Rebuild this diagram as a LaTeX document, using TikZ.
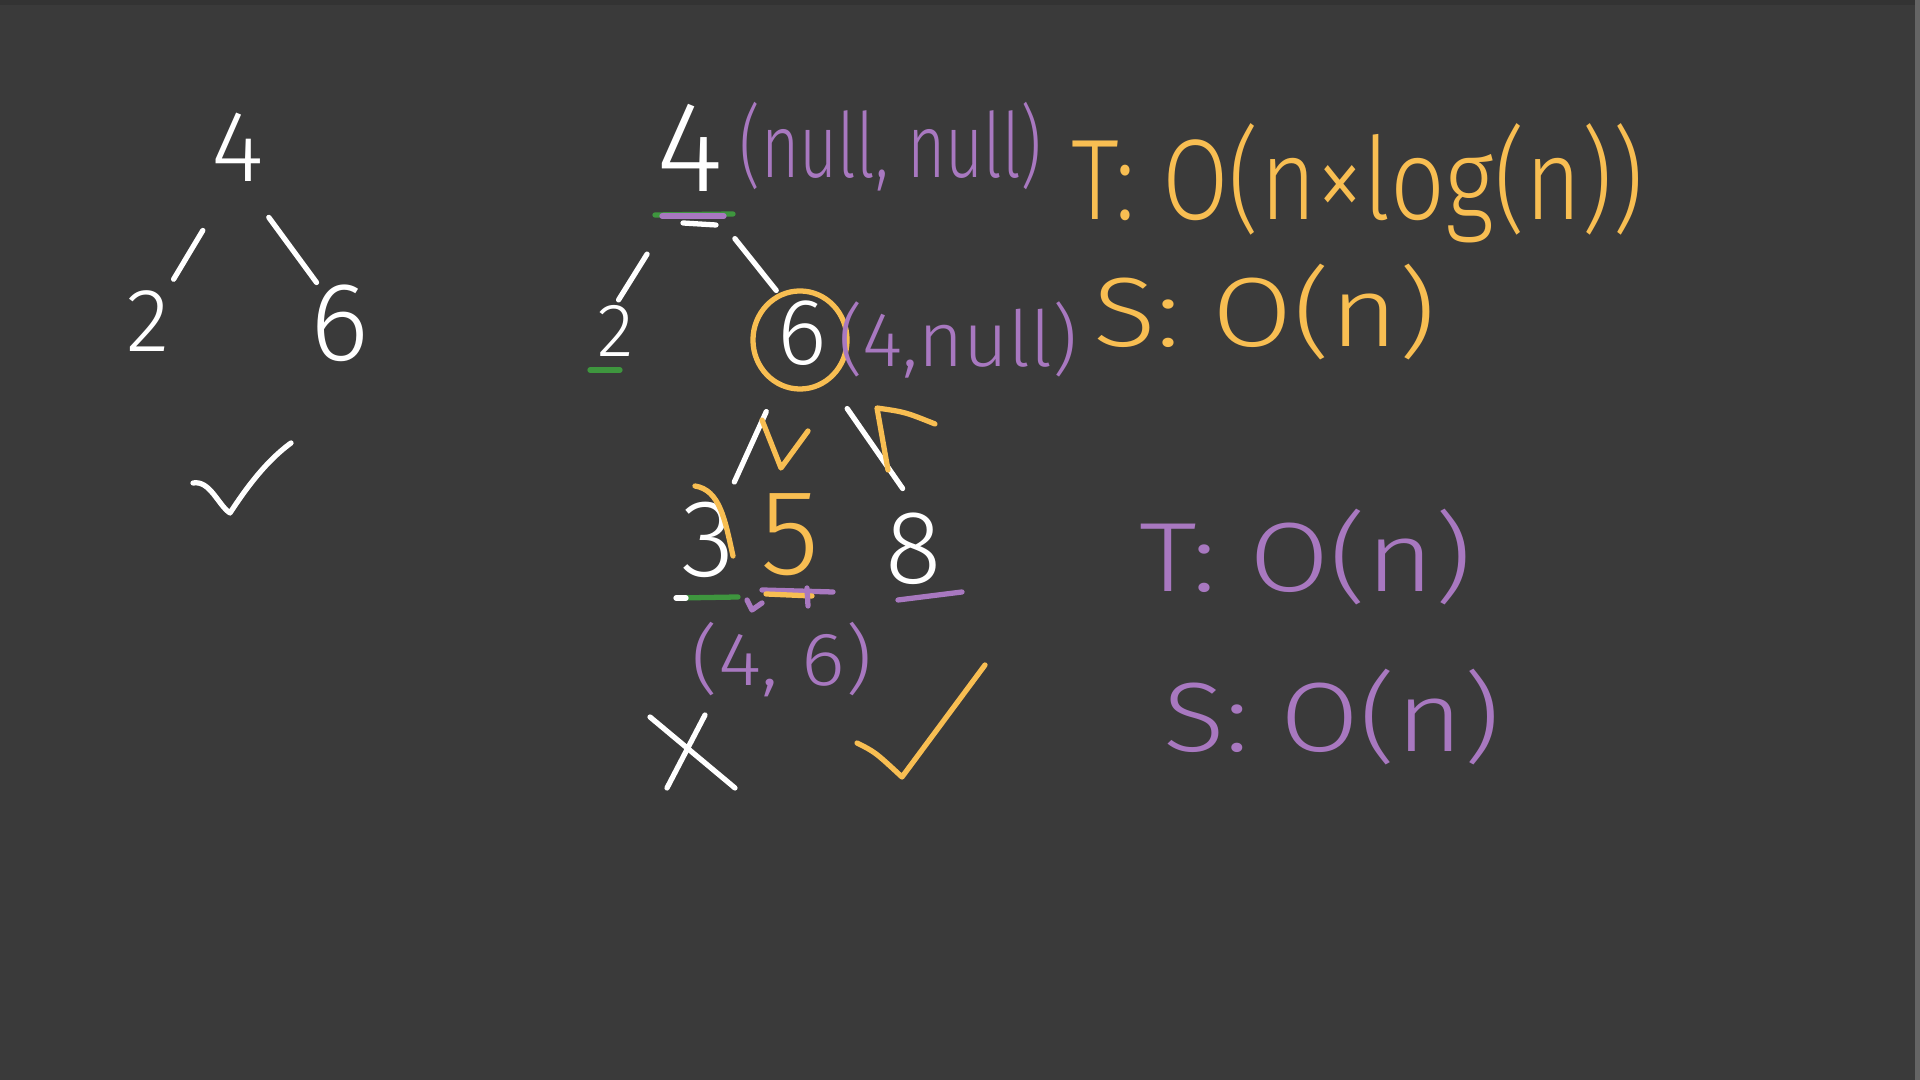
\documentclass[tikz,border=0pt]{standalone}
\usepackage{fontspec}
\setmainfont{Fira Sans Light}
\usetikzlibrary{calc}

\definecolor{board}{RGB}{58,58,58}
\definecolor{penpurple}{RGB}{168,120,192}
\definecolor{penorange}{RGB}{248,190,82}
\definecolor{pengreen}{RGB}{62,150,62}

\begin{document}
\begin{tikzpicture}[
    x=0.01cm, y=-0.01cm,
    digit/.style={text=white, inner sep=0pt, font=\fontsize{#1}{#1}\selectfont},
    note/.style={inner sep=0pt, font=\fontsize{#1}{#1}\selectfont},
    pen/.style={line width=1.5pt, line cap=round, line join=round},
    ]

    % Board
    \fill[board] (0,0) rectangle (1920,1080);
    \useasboundingbox (0,0) rectangle (1920,1080);
    \draw[black!80, line width=1.5pt] (0,2) -- (1920,2);
    \fill[gray!60!board] (1915,0) rectangle (1920,1080);

    % Left tree
    \node[digit=28.8] (l4) at (238,147) {4};
    \node[digit=25.6] (l2) at (148,321) {2};
    \node[digit=31.8] (l6) at (340,323) {6};
    \draw[pen, white] ($(l4)!0.48!(l2)+(8,0)$) -- ($(l4)!0.76!(l2)+(4,0)$);
    \draw[pen, white] ($(l4)!0.40!(l6)+(-10,0)$) -- ($(l4)!0.77!(l6)$);
    \draw[pen, white] (193,483) .. controls (210,480) and (218,505) .. (230,513)
        .. controls (245,490) and (265,462) .. (291,443);

    % Right tree
    \node[digit=36.7] (r4) at (690,148) {4};
    \node[digit=21.5] (r2) at (616,331) {2};
    \node[digit=26.8] (r6) at (802,333) {6};
    \node[digit=31.3] (r3) at (708,540) {3};
    \node[digit=34.6, text=penorange] (r5) at (790,535) {5};
    \node[digit=29.7] (r8) at (914,549) {8};
    \draw[pen, white] ($(r4)!0.58!(r2)$) -- ($(r4)!0.83!(r2)+(-10,0)$);
    \draw[pen, white] ($(r4)!0.49!(r6)+(-10,0)$) -- ($(r4)!0.77!(r6)$);
    \draw[pen, white] ($(r6)!0.38!(r3)$) -- ($(r6)!0.72!(r3)$);
    \draw[pen, white] ($(r6)!0.35!(r8)+(6,0)$) -- ($(r6)!0.72!(r8)+(20,0)$);
    \draw[pen, penorange] ($(r6)+(-2,7)$) ellipse [x radius=0.47cm, y radius=0.49cm];

    % Orange marks
    \draw[pen, penorange] (762,420) -- (781,468) -- (808,431);
    \draw[pen, penorange] (935,424) .. controls (905,412) .. (877,408) -- (888,470);
    \draw[pen, penorange] (695,486) .. controls (720,490) and (725,520) .. (733,556);

    % Underlines
    \draw[pen, pengreen] (655,215) -- (733,214);
    \draw[pen, penpurple] (662,216) -- (724,216);
    \draw[pen, white] (683,223) -- (716,225);
    \draw[pen, pengreen] (590,370) -- (620,370);
    \draw[pen, pengreen] (678,598) -- (738,597);
    \draw[pen, white] (676,598) -- (686,598);
    \draw[pen, penpurple] (762,590) -- (833,592);
    \draw[pen, penorange] (766,594) -- (812,596);
    \draw[pen, penpurple] (747,600) -- (752,610) -- (762,603);
    \draw[pen, penpurple] (807,588) -- (808,606);
    \draw[pen, penpurple] (898,600) -- (962,592);

    % Results
    \draw[pen, white] (650,717) -- (735,788);
    \draw[pen, white] (705,715) -- (667,788);
    \draw[pen, penorange] (857,743) .. controls (875,752) .. (902,777) -- (985,665);

    % Ranges
    \node[note=25.6, text=penpurple] (nulls) at (891,147) {\scalebox{0.73}[1]{(null, null)}};
    \node[note=22, text=penpurple] (fourNull) at (958,340) {(4,null)};
    \node[note=21.5, text=penpurple] (pair) at (782,660) {\scalebox{1.1}[1]{(4, 6)}};

    % Complexity
    \node[note=32.6, text=penorange, anchor=base west] (timeA) at (1071,220) {\scalebox{0.84}[1]{T: O(n×log(n))}};
    \node[note=28, text=penorange, anchor=base west] (spaceA) at (1093,347) {\scalebox{1.18}[1]{S: O(n)}};
    \node[note=28, text=penpurple, anchor=base west] (timeB) at (1139,592) {\scalebox{1.18}[1]{T: O(n)}};
    \node[note=28, text=penpurple, anchor=base west] (spaceB) at (1163,752) {\scalebox{1.16}[1]{S: O(n)}};

\end{tikzpicture}
\end{document}
